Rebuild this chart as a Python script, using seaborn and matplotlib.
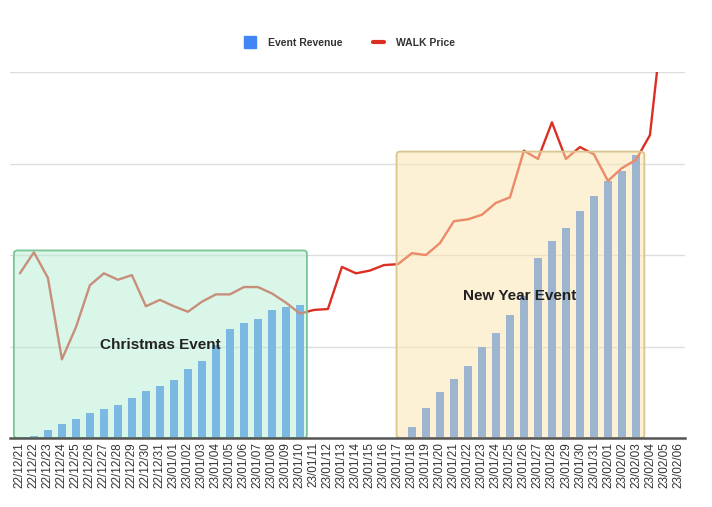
import numpy as np
import pandas as pd
import matplotlib
matplotlib.use("Agg")
import matplotlib.pyplot as plt
import seaborn as sns
from matplotlib.patches import FancyBboxPatch
from matplotlib.lines import Line2D

dates = (["22/12/%02d" % d for d in range(21, 32)] +
         ["23/01/%02d" % d for d in range(1, 32)] +
         ["23/02/%02d" % d for d in range(1, 7)])

walk_price = [1.80, 2.03, 1.75, 0.86, 1.21, 1.67, 1.80, 1.73, 1.78, 1.44,
              1.51, 1.44, 1.38, 1.49, 1.57, 1.57, 1.65, 1.65, 1.58, 1.48,
              1.36, 1.40, 1.41, 1.87, 1.80, 1.83, 1.89, 1.90, 2.02, 2.00,
              2.13, 2.37, 2.39, 2.44, 2.57, 2.63, 3.14, 3.05, 3.45, 3.05,
              3.18, 3.10, 2.81, 2.95, 3.04, 3.31, 4.69, np.nan]

xmas_dates = dates[1:21]
xmas_revenue = [0.02, 0.09, 0.15, 0.21, 0.27, 0.32, 0.36, 0.44, 0.51, 0.57,
                0.63, 0.75, 0.84, 1.02, 1.19, 1.26, 1.30, 1.40, 1.43, 1.45]
ny_dates = dates[28:45]
ny_revenue = [0.12, 0.33, 0.50, 0.65, 0.79, 0.99, 1.15, 1.34, 1.55, 1.97,
              2.15, 2.30, 2.48, 2.65, 2.81, 2.92, 3.09]

bars = pd.DataFrame({
    "date": xmas_dates + ny_dates,
    "revenue": xmas_revenue + ny_revenue,
})
line = pd.DataFrame({"pos": np.arange(len(dates)), "price": walk_price})

sns.set_theme(style="white")
plt.rcParams["font.family"] = ["Liberation Sans", "DejaVu Sans"]

fig = plt.figure(figsize=(7.12, 5.07), dpi=100)
ax = fig.add_axes([0.014, 0.136, 0.948, 0.722])

BLUE = "#4285f4"
RED = "#dc2f24"

for yv in [1, 2, 3, 4]:
    ax.axhline(yv, color="#dddddd", lw=1, zorder=0)

sns.barplot(data=bars, x="date", y="revenue", order=dates, width=0.6,
            color=BLUE, saturation=1, linewidth=0, edgecolor="none",
            ax=ax, zorder=2)
sns.lineplot(data=line, x="pos", y="price", color=RED, lw=1.7, ax=ax,
             zorder=3)

def event_box(x0, w, h, face, edge):
    ax.add_patch(FancyBboxPatch((x0, 0.0), w, h,
                                boxstyle="round,pad=0,rounding_size=0.25",
                                facecolor=face, alpha=0.5, edgecolor="none",
                                zorder=4, mutation_aspect=0.15))
    ax.add_patch(FancyBboxPatch((x0, 0.0), w, h,
                                boxstyle="round,pad=0,rounding_size=0.25",
                                facecolor="none", edgecolor=edge, lw=1.3,
                                zorder=4, mutation_aspect=0.15))

event_box(-0.43, 20.93, 2.05, "#b4eed2", "#7cc499")
event_box(26.9, 17.7, 3.13, "#fbe5ac", "#d9c58e")

ax.text(10.0, 1.02, "Christmas Event", ha="center", va="center",
        fontsize=11, fontweight="bold", color="#222222", zorder=5)
ax.text(35.7, 1.55, "New Year Event", ha="center", va="center",
        fontsize=11, fontweight="bold", color="#222222", zorder=5)

ax.set_xlim(-0.71, 47.5)
ax.set_ylim(0, 4)
ax.set_xticks(range(len(dates)))
ax.set_xticklabels(dates, rotation=90, fontsize=8.5, color="#333333")
ax.set_yticks([])
ax.set_xlabel("")
ax.set_ylabel("")
ax.tick_params(axis="x", length=0, pad=3)
for s in ["top", "right", "left"]:
    ax.spines[s].set_visible(False)
ax.spines["bottom"].set_color("#555555")
ax.spines["bottom"].set_linewidth(1.8)
ax.spines["bottom"].set_zorder(6)

handles = [Line2D([0], [0], marker="s", color="none", markerfacecolor=BLUE,
                  markeredgecolor=BLUE, markersize=8, label="Event Revenue"),
           Line2D([0], [0], color=RED, lw=3, label="WALK Price")]
leg = fig.legend(handles=handles, loc="center",
                 bbox_to_anchor=(350 / 712, 1 - 43 / 507),
                 ncol=2, frameon=False, handlelength=1.0,
                 columnspacing=3.0, handletextpad=1.2,
                 prop={"weight": "bold", "size": 7.5})
for t in leg.get_texts():
    t.set_color("#333333")

fig.savefig("out.png", dpi=100)
